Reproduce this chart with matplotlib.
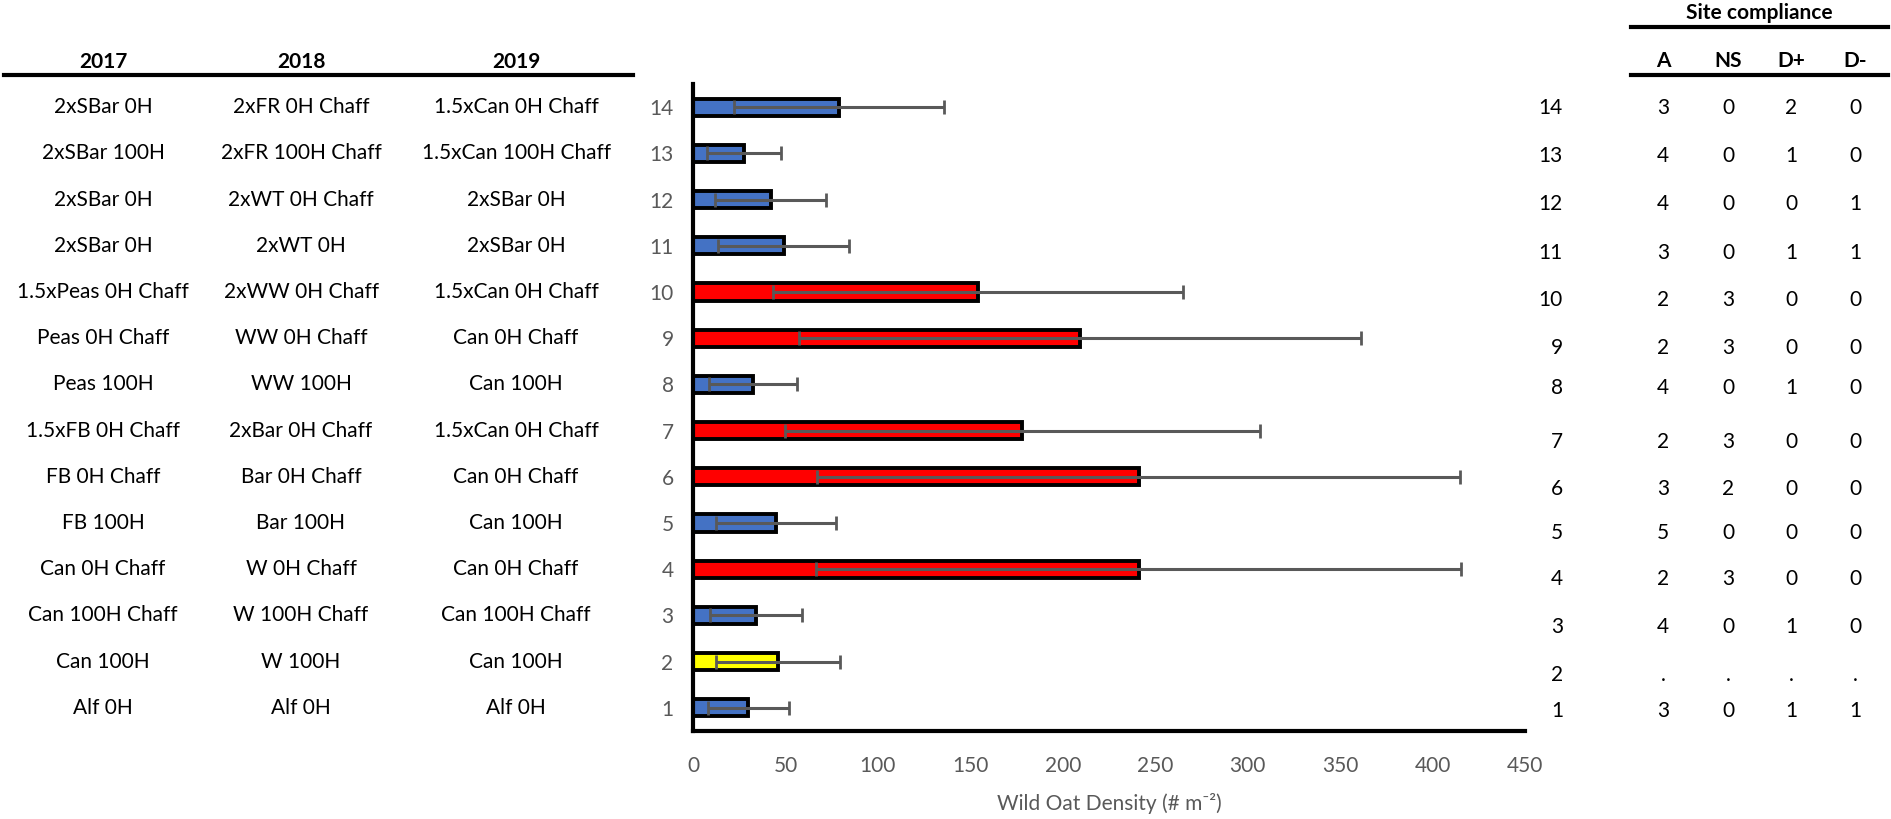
import matplotlib.pyplot as plt
from matplotlib.lines import Line2D
from matplotlib.transforms import blended_transform_factory

# data (treatment 1 .. 14, bottom to top)
treatments = list(range(1, 15))
density = [30, 46, 34, 241, 45, 241, 178, 32.5, 209.5, 154, 49, 42, 27.5, 79]
density_se = [22, 33.5, 24.7, 174.5, 32.5, 174, 128.5, 24, 152, 111, 35.5, 30, 20, 57]
group = ["b", "y", "b", "r", "b", "r", "r", "b", "r", "r", "b", "b", "b", "b"]

labels_2017 = ["Alf 0H", "Can 100H", "Can 100H Chaff", "Can 0H Chaff", "FB 100H",
               "FB 0H Chaff", "1.5xFB 0H Chaff", "Peas 100H", "Peas 0H Chaff",
               "1.5xPeas 0H Chaff", "2xSBar 0H", "2xSBar 0H", "2xSBar 100H", "2xSBar 0H"]
labels_2018 = ["Alf 0H", "W 100H", "W 100H Chaff", "W 0H Chaff", "Bar 100H",
               "Bar 0H Chaff", "2xBar 0H Chaff", "WW 100H", "WW 0H Chaff",
               "2xWW 0H Chaff", "2xWT 0H", "2xWT 0H Chaff", "2xFR 100H Chaff", "2xFR 0H Chaff"]
labels_2019 = ["Alf 0H", "Can 100H", "Can 100H Chaff", "Can 0H Chaff", "Can 100H",
               "Can 0H Chaff", "1.5xCan 0H Chaff", "Can 100H", "Can 0H Chaff",
               "1.5xCan 0H Chaff", "2xSBar 0H", "2xSBar 0H", "1.5xCan 100H Chaff",
               "1.5xCan 0H Chaff"]
years = ["2017", "2018", "2019"]

compliance_cols = ["A", "NS", "D+", "D-"]
comp_A = ["3", ".", "4", "2", "5", "3", "2", "4", "2", "2", "3", "4", "4", "3"]
comp_NS = ["0", ".", "0", "3", "0", "2", "3", "0", "3", "3", "0", "0", "0", "0"]
comp_Dp = ["1", ".", "1", "0", "0", "0", "0", "1", "0", "0", "1", "0", "1", "2"]
comp_Dm = ["1", ".", "0", "0", "0", "0", "0", "0", "0", "0", "1", "1", "0", "0"]

colors = {"b": "#4472C4", "r": "#FF0000", "y": "#FFFF00"}
W, H = 1891, 819
font = ["Lato", "DejaVu Sans"]
plt.rcParams["font.family"] = font
gray = "#595959"

fig = plt.figure(figsize=(W / 100, H / 100), dpi=100)
ax = fig.add_axes([693 / W, (H - 731) / H, (1525 - 693) / W, (731 - 84) / H])

ax.barh(treatments, density, height=0.37, color=[colors[g] for g in group],
        edgecolor="black", linewidth=2.8, zorder=2)
ax.errorbar(density, treatments, xerr=density_se, fmt="none", ecolor=gray,
            elinewidth=2.2, capsize=5, capthick=2, zorder=3)

ax.set_xlim(0, 450)
ax.set_ylim(0.5, 14.5)
ax.set_xticks(range(0, 451, 50))
ax.set_yticks(treatments, [str(t) for t in treatments])
ax.tick_params(length=0, labelsize=15, labelcolor=gray)
ax.tick_params(axis="y", pad=14)
ax.tick_params(axis="x", pad=18)
for s in ["top", "right"]:
    ax.spines[s].set_visible(False)
for s in ["left", "bottom"]:
    ax.spines[s].set_linewidth(3)
ax.set_xlabel("Wild Oat Density (# m\u207b\u00b2)", fontsize=15, color=gray, labelpad=12)

# left table of treatment names
tr = blended_transform_factory(fig.transFigure, ax.transData)
col_x = [103, 301, 516]
for x, yr, labs in zip(col_x, years, [labels_2017, labels_2018, labels_2019]):
    fig.text(x / W, 1 - 62 / H, yr, ha="center", va="center", fontsize=15,
             fontweight="bold")
    for t, lab in zip(treatments, labs):
        fig.text(x / W, t, lab, transform=tr, ha="center", va="center", fontsize=15)
fig.add_artist(Line2D([4 / W, 633 / W], [1 - 75 / H] * 2, color="black", lw=3))

# right table: site compliance
right_y = [711, 675, 627, 579, 533, 489, 442, 388, 348, 300, 253, 204, 156, 108]
fig.text(1759 / W, 1 - 13 / H, "Site compliance", ha="center", va="center",
         fontsize=15, fontweight="bold")
fig.add_artist(Line2D([1631 / W, 1888 / W], [1 - 27 / H] * 2, color="black", lw=3))
fig.add_artist(Line2D([1631 / W, 1888 / W], [1 - 75 / H] * 2, color="black", lw=3))
cx = [1663, 1728, 1791, 1855]
for x, name in zip(cx, compliance_cols):
    fig.text(x / W, 1 - 61 / H, name, ha="center", va="center", fontsize=15,
             fontweight="bold")
for i, t in enumerate(treatments):
    y = 1 - right_y[i] / H
    fig.text(1563 / W, y, str(t), ha="right", va="center", fontsize=15)
    for x, col in zip(cx, [comp_A, comp_NS, comp_Dp, comp_Dm]):
        fig.text(x / W, y, col[i], ha="center", va="center", fontsize=15)

fig.savefig("out.png", dpi=100)
